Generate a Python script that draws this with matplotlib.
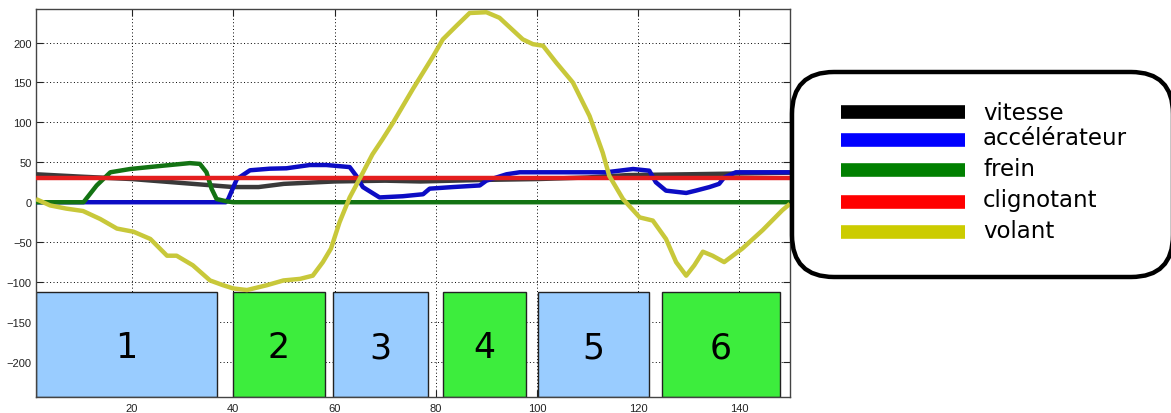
"""Signaux de conduite (vitesse, pédales, clignotant, volant) et phases numérotées."""
from __future__ import annotations

import matplotlib

matplotlib.use("Agg")
import matplotlib.pyplot as plt
from matplotlib.lines import Line2D
from matplotlib.patches import FancyBboxPatch
from matplotlib.transforms import IdentityTransform


# --- données --------------------------------------------------------------
vitesse_x = [1, 10, 20, 30, 40, 45, 50, 60, 70, 77, 90, 100, 110, 118, 130, 140, 150]
vitesse_y = [35, 32, 29, 24, 19, 19, 23, 26, 27, 26, 28, 29, 31, 34, 35, 36, 37]

accel_x = [1, 38.5, 39, 40.7, 43.3, 47.2, 50.5, 55.1, 58.4, 63,
           64.3, 65.6, 68.9, 73.5, 77.5, 78.8, 83.4, 88.7, 90, 94,
           96.6, 113.7, 116.3, 119, 122.2, 123.5, 125.5, 129.5, 131.4, 134.1,
           136, 137, 139.3, 150]
accel_y = [0, 0, 4, 29, 40, 42, 42.5, 46.6, 46.6, 44,
           33, 19, 6, 7.5, 10, 17, 19, 21, 27, 35,
           37.5, 37.5, 39.5, 41.6, 39.5, 25, 14.5, 11.6, 14.5, 19,
           23, 31, 37.5, 37.5]

frein_x = [1, 10.4, 13, 15.7, 19.6, 26.2, 31.4, 33.4, 34.7, 35.7, 36.7, 38.7, 40, 150]
frein_y = [0, 0, 21, 37.5, 41.6, 45.8, 49, 48, 37.5, 17, 4, 1, 0, 0]

clignotant_x = [1, 150]
clignotant_y = [30, 30]

volant_x = [1, 3.8, 7, 10.3, 13.7, 17, 20.3, 23.6, 26.9, 28.8,
            32, 35.4, 38, 40, 42.7, 46.6, 49.9, 53.2, 55.7, 57.7,
            59.3, 61, 63, 65.6, 67.5, 69.5, 71.6, 75.5, 79.5, 81.4,
            84.1, 86.7, 90, 92.6, 97.2, 99.2, 101.2, 103.8, 107.1, 110.4,
            113, 114.3, 117, 120.3, 122.9, 125.5, 127.5, 129.5, 131.1, 132.8,
            134.7, 137, 140.6, 144.6, 148.5, 150]
volant_y = [4, -4, -8, -11, -21, -33, -37, -46, -67, -67,
            -79, -98, -104, -108, -110, -104, -98, -96, -92, -75,
            -58, -25, 6, 37, 60, 79, 100, 142, 183, 204,
            221, 237, 238, 231, 204, 198, 196, 175, 150, 108,
            62, 33, 4, -19, -23, -46, -75, -92, -79, -62,
            -67, -75, -58, -35, -10, -2]

# phases (blocs numérotés sous les courbes)
phase_labels = ["1", "2", "3", "4", "5", "6"]
phase_start = [1, 39.9, 59.7, 81.4, 100.2, 124.7]
phase_end = [36.7, 58.1, 78.5, 97.8, 122.2, 148.0]

legend_labels = ["vitesse", "accélérateur", "frein", "clignotant", "volant"]
legend_colors = ["#000000", "#0000ff", "#008000", "#ff0000", "#cccc00"]

x_ticks = [20, 40, 60, 80, 100, 120, 140]
y_ticks = [-200, -150, -100, -50, 0, 50, 100, 150, 200]


def plot_signaux(savepath: str = "out.png") -> str:
    """Trace les signaux et la légende arrondie."""
    fig = plt.figure(figsize=(11.71, 4.14), dpi=100)
    ax = fig.add_axes([0.0307, 0.0386, 0.6439, 0.9372])

    ymin, ymax = -244, 242
    ax.set_xlim(1, 150)
    ax.set_ylim(ymin, ymax)

    series = [
        (vitesse_x, vitesse_y, "#3a3a3a"),
        (accel_x, accel_y, "#0c0cc4"),
        (frein_x, frein_y, "#137313"),
        (clignotant_x, clignotant_y, "#e41e1e"),
        (volant_x, volant_y, "#c8c83a"),
    ]
    for xs, ys, color in series:
        ax.plot(xs, ys, color=color, lw=3.2, solid_joinstyle="round",
                solid_capstyle="butt", zorder=3)

    # blocs de phases
    widths = [e - s for s, e in zip(phase_start, phase_end)]
    colors = ["#99ccff" if i % 2 == 0 else "#3ded3d" for i in range(len(phase_labels))]
    top = -112.5
    ax.bar(phase_start, top - ymin, width=widths, bottom=ymin, align="edge",
           color=colors, edgecolor="#222222", linewidth=1.0, zorder=2)
    for s, e, lab in zip(phase_start, phase_end, phase_labels):
        ax.text((s + e) / 2, -194, lab, ha="center", va="baseline",
                fontsize=25, color="black", zorder=4)

    ax.set_xticks(x_ticks)
    ax.set_yticks(y_ticks)
    ax.grid(True, color="black", linestyle=(0, (1, 2.5)), linewidth=0.7)
    ax.tick_params(direction="in", length=5, width=0.8, top=True, right=True,
                   labelsize=8, pad=3, colors="#222222")
    ax.tick_params(axis="x", pad=4)
    for lab in ax.get_xticklabels() + ax.get_yticklabels():
        lab.set_family("Liberation Sans")
    for sp in ax.spines.values():
        sp.set_color("#444444")
        sp.set_linewidth(1.0)

    # légende dessinée à la main (coordonnées en pixels, origine en bas)
    H = 414
    box = FancyBboxPatch((792, H - 278), 381, 205,
                         boxstyle="round,pad=0,rounding_size=42",
                         transform=IdentityTransform(), facecolor="white",
                         edgecolor="black", linewidth=3.2)
    fig.add_artist(box)
    handle_y = [113.3, 140.5, 171.3, 203.3, 232.5]
    text_y = [120, 145, 176.5, 207.5, 238.3]
    for lab, col, hy, ty in zip(legend_labels, legend_colors, handle_y, text_y):
        fig.add_artist(Line2D([841, 965], [H - hy, H - hy], color=col, lw=9.8,
                              solid_capstyle="butt", transform=IdentityTransform()))
        fig.text(983 / 1171, 1 - ty / H, lab, fontsize=16.5, va="baseline",
                 ha="left", color="black")

    fig.savefig(savepath, dpi=100)
    plt.close(fig)
    return savepath


if __name__ == "__main__":
    plot_signaux()
